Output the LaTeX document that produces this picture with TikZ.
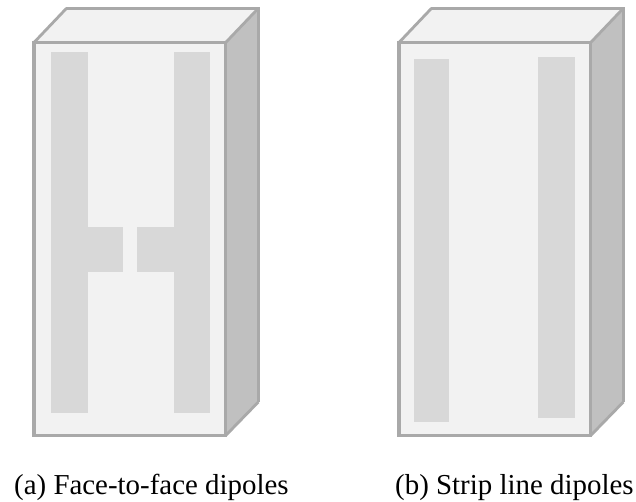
\documentclass[tikz,border=0pt]{standalone}
\usepackage{fontspec}
\setmainfont{Liberation Serif}
\definecolor{edgegray}{HTML}{A9A9A9}
\definecolor{facegray}{HTML}{F2F2F2}
\definecolor{sidegray}{HTML}{C0C0C0}
\definecolor{stripgray}{HTML}{D8D8D8}
\tikzset{
  boxedge/.style={draw=edgegray,line width=3.4pt,line join=miter},
  strip/.style={fill=stripgray,draw=none},
  caption/.style={anchor=base west,inner sep=0pt,font=\fontsize{28.9}{31}\selectfont,text=black}
}
\newcommand{\slab}[1]{%
  \begin{scope}[shift={(#1,0)}]
    \fill[facegray] (34,42.5) -- (66.5,8.3) -- (258.3,8.3) -- (225.7,42.5) -- cycle;
    \fill[sidegray] (225.7,42.5) -- (258.3,8.3) -- (258.3,402) -- (225.7,435.5) -- cycle;
    \draw[boxedge,line width=2.8pt] (225.7,42.5) -- (258.3,8.3);
    \draw[boxedge,line width=2.8pt] (34,42.5) -- (66.5,8.3);
    \draw[boxedge] (65.5,8.3) -- (258.3,8.3) -- (258.3,402);
    \draw[boxedge,line width=2.8pt] (258.3,402) -- (225.7,435.5);
    \draw[boxedge,fill=facegray] (34,42.5) rectangle (225.7,435.5);
  \end{scope}}
\begin{document}
\begin{tikzpicture}[x=1pt,y=-1pt]
\useasboundingbox (0,0) rectangle (636,501);
\fill[white] (0,0) rectangle (636,501);
\slab{0}
\slab{365}
% left: face-to-face dipoles
\fill[strip] (50.7,51.7) rectangle (88,412.7);
\fill[strip] (174,51.7) rectangle (209.7,412.7);
\fill[strip] (88,227.3) rectangle (123.3,272.3);
\fill[strip] (136.7,227.3) rectangle (174,272.3);
% right: strip line dipoles
\fill[strip] (414,59.3) rectangle (449,422);
\fill[strip] (537.7,57.3) rectangle (574.7,418);
\node[caption] (capa) at (14,494) {(a) Face-to-face dipoles};
\node[caption] (capb) at (395,494) {(b) Strip line dipoles};
\end{tikzpicture}
\end{document}
